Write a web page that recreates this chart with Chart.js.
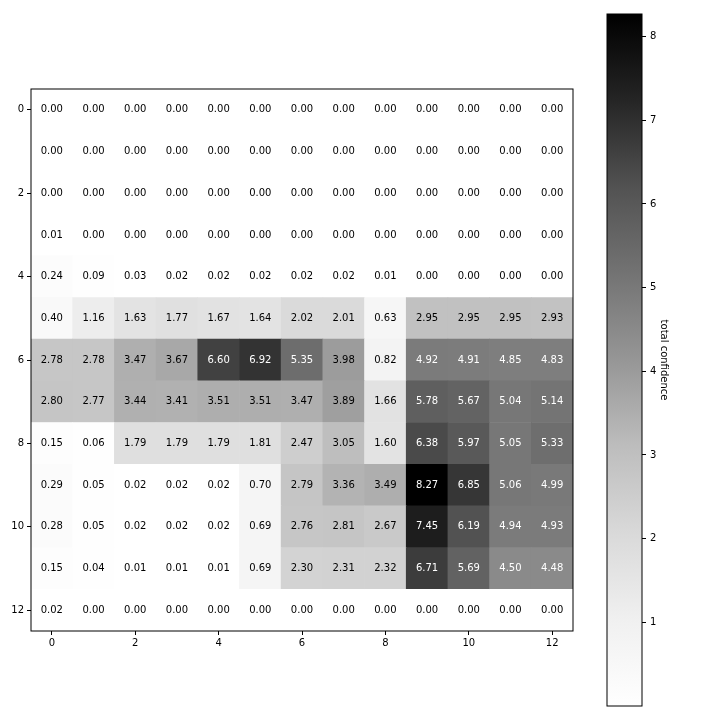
<!DOCTYPE html>
<html>
<head>
<meta charset="utf-8">
<script src="https://cdn.jsdelivr.net/npm/chart.js@4.4.1/dist/chart.umd.min.js"></script>
<style>
  body { margin: 0; background: #fff; }
  #wrap { position: relative; width: 720px; height: 720px; }
  #wrap canvas { position: absolute; left: 0; top: 0; }
</style>
</head>
<body>
<div id="wrap">
  <canvas id="heatChart" width="720" height="720"></canvas>
  <canvas id="barChart" width="720" height="720"></canvas>
</div>
<script>
// rows 0..12 top to bottom, columns 0..12 left to right
const cellValues = [
    [0.00, 0.00, 0.00, 0.00, 0.00, 0.00, 0.00, 0.00, 0.00, 0.00, 0.00, 0.00, 0.00],
    [0.00, 0.00, 0.00, 0.00, 0.00, 0.00, 0.00, 0.00, 0.00, 0.00, 0.00, 0.00, 0.00],
    [0.00, 0.00, 0.00, 0.00, 0.00, 0.00, 0.00, 0.00, 0.00, 0.00, 0.00, 0.00, 0.00],
    [0.01, 0.00, 0.00, 0.00, 0.00, 0.00, 0.00, 0.00, 0.00, 0.00, 0.00, 0.00, 0.00],
    [0.24, 0.09, 0.03, 0.02, 0.02, 0.02, 0.02, 0.02, 0.01, 0.00, 0.00, 0.00, 0.00],
    [0.40, 1.16, 1.63, 1.77, 1.67, 1.64, 2.02, 2.01, 0.63, 2.95, 2.95, 2.95, 2.93],
    [2.78, 2.78, 3.47, 3.67, 6.60, 6.92, 5.35, 3.98, 0.82, 4.92, 4.91, 4.85, 4.83],
    [2.80, 2.77, 3.44, 3.41, 3.51, 3.51, 3.47, 3.89, 1.66, 5.78, 5.67, 5.04, 5.14],
    [0.15, 0.06, 1.79, 1.79, 1.79, 1.81, 2.47, 3.05, 1.60, 6.38, 5.97, 5.05, 5.33],
    [0.29, 0.05, 0.02, 0.02, 0.02, 0.70, 2.79, 3.36, 3.49, 8.27, 6.85, 5.06, 4.99],
    [0.28, 0.05, 0.02, 0.02, 0.02, 0.69, 2.76, 2.81, 2.67, 7.45, 6.19, 4.94, 4.93],
    [0.15, 0.04, 0.01, 0.01, 0.01, 0.69, 2.30, 2.31, 2.32, 6.71, 5.69, 4.50, 4.48],
    [0.02, 0.00, 0.00, 0.00, 0.00, 0.00, 0.00, 0.00, 0.00, 0.00, 0.00, 0.00, 0.00]
];
const xTicks = [0, 2, 4, 6, 8, 10, 12];
const yTicks = [0, 2, 4, 6, 8, 10, 12];
const colorbarTicks = [1, 2, 3, 4, 5, 6, 7, 8];
const colorbarLabel = 'total confidence';

// matplotlib "Greys" stops
const greyStops = [255, 240, 217, 189, 150, 115, 82, 37, 0];

const allValues = cellValues.flat();
const vmin = Math.min(...allValues);
const vmax = Math.max(...allValues);

function greyColor(v) {
    let t = (v - vmin) / (vmax - vmin);
    t = Math.max(0, Math.min(1, t));
    const pos = t * (greyStops.length - 1);
    const i = Math.min(Math.floor(pos), greyStops.length - 2);
    const g = Math.round(greyStops[i] + (greyStops[i + 1] - greyStops[i]) * (pos - i));
    return `rgb(${g}, ${g}, ${g})`;
}

Chart.defaults.font.family = 'DejaVu Sans';
Chart.defaults.font.size = 10;
Chart.defaults.color = '#000';

let cells = [];
let cellColors = [];
let cellNumbers = [];
cellValues.forEach((row, r) => {
    row.forEach((v, c) => {
        cells.push({ x: c, y: [r - 0.5, r + 0.5] });
        cellColors.push(greyColor(v));
        cellNumbers.push(v);
    });
});

const frame = {
    id: 'frame',
    afterDraw(chart) {
        const a = chart.chartArea;
        const ctx = chart.ctx;
        ctx.save();
        ctx.strokeStyle = '#000';
        ctx.lineWidth = 1;
        ctx.strokeRect(a.left, a.top, a.right - a.left, a.bottom - a.top);
        ctx.restore();
    }
};

const cellText = {
    id: 'cellText',
    afterDatasetsDraw(chart) {
        const ctx = chart.ctx;
        const meta = chart.getDatasetMeta(0);
        ctx.save();
        ctx.font = '10px "DejaVu Sans"';
        ctx.textAlign = 'center';
        ctx.textBaseline = 'middle';
        meta.data.forEach((el, i) => {
            const v = cellNumbers[i];
            const p = el.getCenterPoint();
            ctx.fillStyle = v > vmax / 2 ? '#fff' : '#000';
            ctx.fillText(v.toFixed(2), p.x, p.y);
        });
        ctx.restore();
    }
};

const tickGrid = { display: true, drawOnChartArea: false, drawTicks: true, tickLength: 4, color: '#000', offset: false };

new Chart(document.getElementById('heatChart'), {
    type: 'bar',
    data: {
        datasets: [{
            data: cells,
            backgroundColor: cellColors,
            borderWidth: 0,
            barPercentage: 1,
            categoryPercentage: 1
        }]
    },
    options: {
        responsive: false,
        animation: false,
        layout: { padding: { top: 89, left: 0, right: 147, bottom: 59 } },
        plugins: { legend: { display: false }, tooltip: { enabled: false } },
        scales: {
            x: {
                type: 'linear',
                position: 'bottom',
                min: -0.5,
                max: 12.5,
                offset: false,
                grid: tickGrid,
                border: { display: false },
                ticks: { padding: 2, maxRotation: 0, autoSkip: false },
                afterBuildTicks: s => { s.ticks = xTicks.map(v => ({ value: v })); },
                afterFit: s => { s.height = 30; }
            },
            y: {
                type: 'linear',
                reverse: true,
                min: -0.5,
                max: 12.5,
                grid: tickGrid,
                border: { display: false },
                ticks: { padding: 3, autoSkip: false },
                afterBuildTicks: s => { s.ticks = yTicks.map(v => ({ value: v })); },
                afterFit: s => { s.width = 31; }
            }
        }
    },
    plugins: [cellText, frame]
});

// colour bar
new Chart(document.getElementById('barChart'), {
    type: 'bar',
    data: {
        labels: [''],
        datasets: [{
            data: [[vmin, vmax]],
            borderWidth: 0,
            barPercentage: 1,
            categoryPercentage: 1,
            backgroundColor: (c) => {
                const chart = c.chart;
                if (!chart.chartArea) return null;
                const ys = chart.scales.y;
                const g = chart.ctx.createLinearGradient(0, ys.getPixelForValue(vmin), 0, ys.getPixelForValue(vmax));
                greyStops.forEach((s, i) => g.addColorStop(i / (greyStops.length - 1), `rgb(${s}, ${s}, ${s})`));
                return g;
            }
        }]
    },
    options: {
        responsive: false,
        animation: false,
        layout: { padding: { top: 14, left: 607, right: 50, bottom: 14 } },
        plugins: { legend: { display: false }, tooltip: { enabled: false } },
        scales: {
            x: { display: false },
            y: {
                position: 'right',
                min: vmin,
                max: vmax,
                grid: tickGrid,
                border: { display: false },
                ticks: { padding: 4 },
                title: { display: true, text: colorbarLabel, padding: 0 },
                afterBuildTicks: s => { s.ticks = colorbarTicks.map(v => ({ value: v })); },
                afterFit: s => { s.width = 28; }
            }
        }
    },
    plugins: [frame]
});
</script>
</body>
</html>
